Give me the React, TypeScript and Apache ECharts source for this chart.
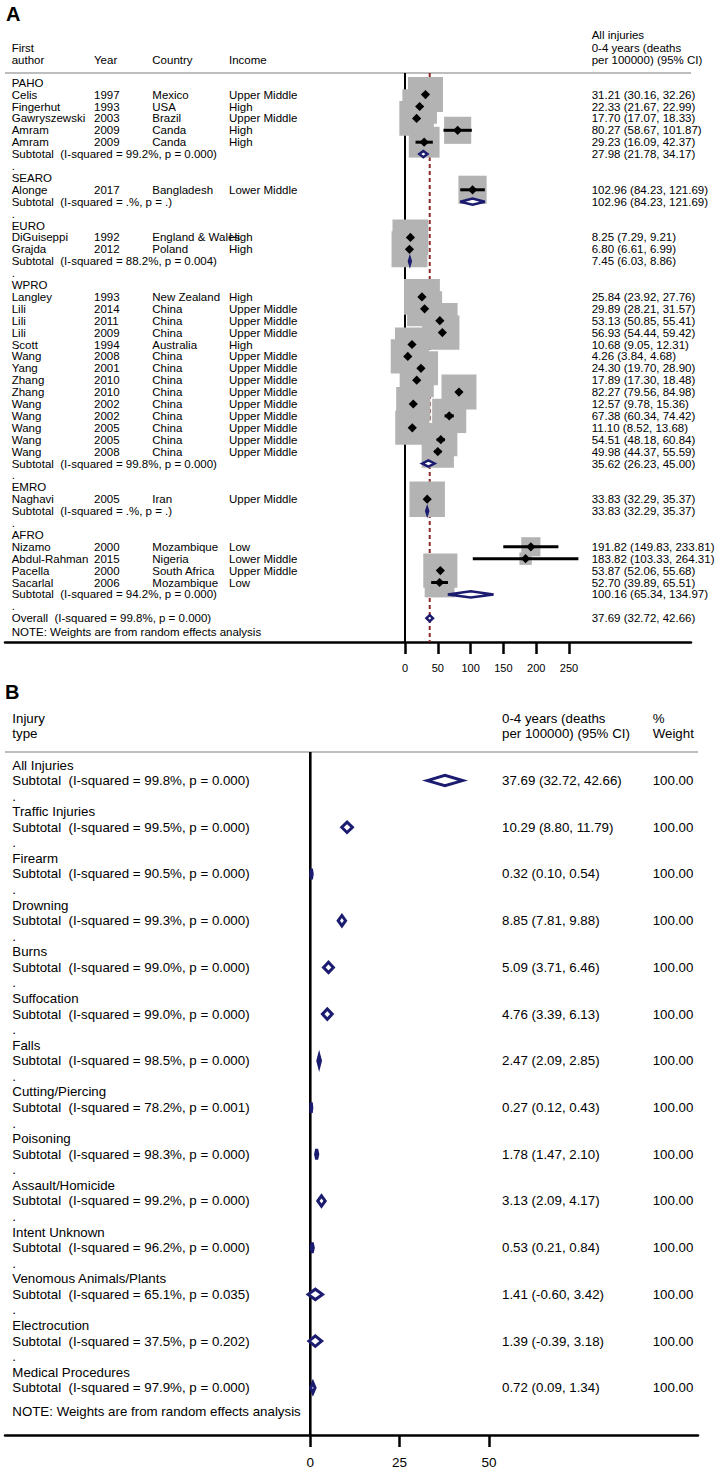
import React, { useEffect, useRef } from "react";
import * as echarts from "echarts";

// ---------- Panel A data (studies by WHO region) ----------
const regions = ["PAHO", "SEARO", "EURO", "WPRO", "EMRO", "AFRO"];
const regionI2 = ["99.2%", ".%", "88.2%", "99.8%", ".%", "94.2%"];
const regionP = ["0.000", ".", "0.004", "0.000", ".", "0.000"];
const regionEst = [27.98, 102.96, 7.45, 35.62, 33.83, 100.16];
const regionLo = [21.78, 84.23, 6.03, 26.23, 32.29, 65.34];
const regionHi = [34.17, 121.69, 8.86, 45.0, 35.37, 134.97];

const studyRegion = [0, 0, 0, 0, 0, 1, 2, 2, 3, 3, 3, 3, 3, 3, 3, 3, 3, 3, 3, 3, 3, 3, 4, 5, 5, 5, 5];
const studyAuthor = ["Celis", "Fingerhut", "Gawryszewski", "Amram", "Amram", "Alonge", "DiGuiseppi", "Grajda", "Langley", "Lili", "Lili", "Lili", "Scott", "Wang", "Yang", "Zhang", "Zhang", "Wang", "Wang", "Wang", "Wang", "Wang", "Naghavi", "Nizamo", "Abdul-Rahman", "Pacella", "Sacarlal"];
const studyYear = ["1997", "1993", "2003", "2009", "2009", "2017", "1992", "2012", "1993", "2014", "2011", "2009", "1994", "2008", "2001", "2010", "2010", "2002", "2002", "2005", "2005", "2008", "2005", "2000", "2015", "2000", "2006"];
const studyCountry = ["Mexico", "USA", "Brazil", "Canda", "Canda", "Bangladesh", "England & Wales", "Poland", "New Zealand", "China", "China", "China", "Australia", "China", "China", "China", "China", "China", "China", "China", "China", "China", "Iran", "Mozambique", "Nigeria", "South Africa", "Mozambique"];
const studyIncome = ["Upper Middle", "High", "Upper Middle", "High", "High", "Lower Middle", "High", "High", "High", "Upper Middle", "Upper Middle", "Upper Middle", "High", "Upper Middle", "Upper Middle", "Upper Middle", "Upper Middle", "Upper Middle", "Upper Middle", "Upper Middle", "Upper Middle", "Upper Middle", "Upper Middle", "Low", "Lower Middle", "Upper Middle", "Low"];
const studyEst = [31.21, 22.33, 17.7, 80.27, 29.23, 102.96, 8.25, 6.8, 25.84, 29.89, 53.13, 56.93, 10.68, 4.26, 24.3, 17.89, 82.27, 12.57, 67.38, 11.1, 54.51, 49.98, 33.83, 191.82, 183.82, 53.87, 52.7];
const studyLo = [30.16, 21.67, 17.07, 58.67, 16.09, 84.23, 7.29, 6.61, 23.92, 28.21, 50.85, 54.44, 9.05, 3.84, 19.7, 17.3, 79.56, 9.78, 60.34, 8.52, 48.18, 44.37, 32.29, 149.83, 103.33, 52.06, 39.89];
const studyHi = [32.26, 22.99, 18.33, 101.87, 42.37, 121.69, 9.21, 6.99, 27.76, 31.57, 55.41, 59.42, 12.31, 4.68, 28.9, 18.48, 84.98, 15.36, 74.42, 13.68, 60.84, 55.59, 35.37, 233.81, 264.31, 55.68, 65.51];
// estimated random-effects weights (%)
const studyWeight = [4.0, 3.9, 3.9, 2.4, 3.1, 2.6, 4.2, 4.2, 4.2, 4.0, 4.1, 3.8, 3.8, 3.8, 3.8, 3.8, 4.0, 3.8, 3.8, 3.8, 3.6, 3.4, 4.1, 1.2, 0.5, 3.8, 2.9];

const overallEst = 37.69;
const overallLo = 32.72;
const overallHi = 42.66;
const overallI2 = "99.8%";
const overallP = "0.000";

const ticksA = [0, 50, 100, 150, 200, 250];

// ---------- Panel B data (injury types) ----------
const injuryTypes = ["All Injuries", "Traffic Injuries", "Firearm", "Drowning", "Burns", "Suffocation", "Falls", "Cutting/Piercing", "Poisoning", "Assault/Homicide", "Intent Unknown", "Venomous Animals/Plants", "Electrocution", "Medical Procedures"];
const injEst = [37.69, 10.29, 0.32, 8.85, 5.09, 4.76, 2.47, 0.27, 1.78, 3.13, 0.53, 1.41, 1.39, 0.72];
const injLo = [32.72, 8.8, 0.1, 7.81, 3.71, 3.39, 2.09, 0.12, 1.47, 2.09, 0.21, -0.6, -0.39, 0.09];
const injHi = [42.66, 11.79, 0.54, 9.88, 6.46, 6.13, 2.85, 0.43, 2.1, 4.17, 0.84, 3.42, 3.18, 1.34];
const injI2 = ["99.8%", "99.5%", "90.5%", "99.3%", "99.0%", "99.0%", "98.5%", "78.2%", "98.3%", "99.2%", "96.2%", "65.1%", "37.5%", "97.9%"];
const injP = ["0.000", "0.000", "0.000", "0.000", "0.000", "0.000", "0.000", "0.001", "0.000", "0.000", "0.000", "0.035", "0.202", "0.000"];
const injWeight = [100, 100, 100, 100, 100, 100, 100, 100, 100, 100, 100, 100, 100, 100];

const ticksB = [0, 25, 50];

// ---------- styling / layout ----------
const FONT = '"Liberation Sans", Arial, Helvetica, sans-serif';
const NAVY = "#1b1b6f";
const MAROON = "#8e2a2a";
const BOXGRAY = "#b3b3b3";
const RULEGRAY = "#bdbdbd";
const FS_A = 11.5;
const FS_B = 13.3;

const fmtCI = (e: number, l: number, h: number) => `${e.toFixed(2)} (${l.toFixed(2)}, ${h.toFixed(2)})`;
const subLabel = (i2: string, p: string) => `Subtotal  (I-squared = ${i2}, p = ${p})`;

type Cell = { x: number; text: string };
type TRow = { row: number; cells: Cell[] };

function buildOption() {
  // ---- Panel A rows ----
  const colA = [11.7, 94, 152.3, 229, 591.7];
  const textA: TRow[] = [];
  const studyRow: number[] = [];
  const diamA: { row: number; est: number; lo: number; hi: number }[] = [];
  let r = 0;
  regions.forEach((reg, gi) => {
    textA.push({ row: r, cells: [{ x: colA[0], text: reg }] });
    r++;
    studyAuthor.forEach((a, si) => {
      if (studyRegion[si] !== gi) return;
      studyRow[si] = r;
      textA.push({
        row: r,
        cells: [
          { x: colA[0], text: a },
          { x: colA[1], text: studyYear[si] },
          { x: colA[2], text: studyCountry[si] },
          { x: colA[3], text: studyIncome[si] },
          { x: colA[4], text: fmtCI(studyEst[si], studyLo[si], studyHi[si]) },
        ],
      });
      r++;
    });
    textA.push({
      row: r,
      cells: [
        { x: colA[0], text: subLabel(regionI2[gi], regionP[gi]) },
        { x: colA[4], text: fmtCI(regionEst[gi], regionLo[gi], regionHi[gi]) },
      ],
    });
    diamA.push({ row: r, est: regionEst[gi], lo: regionLo[gi], hi: regionHi[gi] });
    r++;
    textA.push({ row: r, cells: [{ x: colA[0], text: "." }] });
    r++;
  });
  textA.push({
    row: r,
    cells: [
      { x: colA[0], text: `Overall  (I-squared = ${overallI2}, p = ${overallP})` },
      { x: colA[4], text: fmtCI(overallEst, overallLo, overallHi) },
    ],
  });
  diamA.push({ row: r, est: overallEst, lo: overallLo, hi: overallHi });
  textA.push({ row: r + 1.2, cells: [{ x: colA[0], text: "NOTE: Weights are from random effects analysis" }] });
  // headers
  textA.push({ row: -4.0, cells: [{ x: colA[4], text: "All injuries" }] });
  textA.push({ row: -2.94, cells: [{ x: colA[0], text: "First" }, { x: colA[4], text: "0-4 years (deaths" }] });
  textA.push({
    row: -1.93,
    cells: [
      { x: colA[0], text: "author" },
      { x: colA[1], text: "Year" },
      { x: colA[2], text: "Country" },
      { x: colA[3], text: "Income" },
      { x: colA[4], text: "per 100000) (95% CI)" },
    ],
  });

  // ---- Panel B rows ----
  const colB = [12.3, 502, 652.7];
  const textB: TRow[] = [];
  const diamB: { row: number; est: number; lo: number; hi: number }[] = [];
  injuryTypes.forEach((t, g) => {
    const base = g * 3;
    textB.push({ row: base, cells: [{ x: colB[0], text: t }] });
    textB.push({
      row: base + 1,
      cells: [
        { x: colB[0], text: subLabel(injI2[g], injP[g]) },
        { x: colB[1], text: fmtCI(injEst[g], injLo[g], injHi[g]) },
        { x: colB[2], text: injWeight[g].toFixed(2) },
      ],
    });
    diamB.push({ row: base + 1, est: injEst[g], lo: injLo[g], hi: injHi[g] });
    if (g < injuryTypes.length - 1) textB.push({ row: base + 2, cells: [{ x: colB[0], text: "." }] });
  });
  textB.push({ row: (injuryTypes.length - 1) * 3 + 2.53, cells: [{ x: colB[0], text: "NOTE: Weights are from random effects analysis" }] });
  textB.push({
    row: -3,
    cells: [
      { x: colB[0], text: "Injury" },
      { x: colB[1], text: "0-4 years (deaths" },
      { x: colB[2], text: "%" },
    ],
  });
  textB.push({
    row: -2.04,
    cells: [
      { x: colB[0], text: "type" },
      { x: colB[1], text: "per 100000) (95% CI)" },
      { x: colB[2], text: "Weight" },
    ],
  });

  // ---- geometry of the two plot regions ----
  const gA = { left: 5, right: 691, top: 73, bottom: 642, zeroPx: 405, pxPerUnit: 0.656, row0: 82.7, rowH: 11.9 };
  const gB = { left: 5, right: 698, top: 752, bottom: 1435, zeroPx: 310.3, pxPerUnit: 3.572, row0: 765, rowH: 15.57 };
  const xr = (g: typeof gA) => ({ min: (g.left - g.zeroPx) / g.pxPerUnit, max: (g.right - g.zeroPx) / g.pxPerUnit });
  const yr = (g: typeof gA) => ({ min: (g.top - g.row0) / g.rowH, max: (g.bottom - g.row0) / g.rowH });

  const textRenderer = (rows: TRow[], fs: number) => (params: any, api: any) => {
    const row = rows[params.dataIndex];
    const y = api.coord([0, row.row])[1];
    return {
      type: "group",
      children: row.cells.map((c) => ({
        type: "text",
        x: c.x,
        y,
        style: { text: c.text, fill: "#000", fontSize: fs, fontFamily: FONT, align: "left", verticalAlign: "middle" },
      })),
    };
  };

  const diamondRenderer = (list: { row: number; est: number; lo: number; hi: number }[], halfH: number, lw: number) =>
    (params: any, api: any) => {
      const d = list[params.dataIndex];
      const pl = api.coord([d.lo, d.row]);
      const pe = api.coord([d.est, d.row]);
      const ph = api.coord([d.hi, d.row]);
      return {
        type: "polygon",
        shape: { points: [[pl[0], pl[1]], [pe[0], pe[1] - halfH], [ph[0], ph[1]], [pe[0], pe[1] + halfH]] },
        style: { fill: "#fff", stroke: NAVY, lineWidth: lw, lineJoin: "miter" },
      };
    };

  const frameRenderer = (dashed: boolean) => (params: any, api: any) => {
    const cs = params.coordSys;
    const x0 = api.coord([0, 0])[0];
    const children: any[] = [
      { type: "line", shape: { x1: cs.x, y1: cs.y, x2: cs.x + cs.width, y2: cs.y }, style: { stroke: RULEGRAY, lineWidth: 2 } },
      { type: "line", shape: { x1: x0, y1: cs.y, x2: x0, y2: cs.y + cs.height }, style: { stroke: "#000", lineWidth: dashed ? 2 : 2.6 } },
    ];
    if (dashed) {
      const xo = api.coord([overallEst, 0])[0];
      children.push({
        type: "line",
        shape: { x1: xo, y1: cs.y, x2: xo, y2: cs.y + cs.height },
        style: { stroke: MAROON, lineWidth: 2, lineDash: [4, 3] },
      });
    }
    return { type: "group", children };
  };

  const xAxisCfg = (gi: number, g: typeof gA, ticks: number[], fs: number) => ({
    gridIndex: gi,
    type: "value",
    position: "bottom",
    ...xr(g),
    axisLine: { show: true, onZero: false, lineStyle: { color: "#000", width: 2.5 } },
    axisTick: { show: true, customValues: ticks, length: 12, lineStyle: { color: "#000", width: 2.5 } },
    axisLabel: { show: true, customValues: ticks, margin: 20, color: "#000", fontSize: fs, fontFamily: FONT },
    splitLine: { show: false },
  });
  const yAxisCfg = (gi: number, g: typeof gA) => ({
    gridIndex: gi,
    type: "value",
    inverse: true,
    show: false,
    ...yr(g),
    splitLine: { show: false },
  });

  return {
    animation: false,
    backgroundColor: "#fff",
    grid: [
      { left: gA.left, top: gA.top, width: gA.right - gA.left, height: gA.bottom - gA.top },
      { left: gB.left, top: gB.top, width: gB.right - gB.left, height: gB.bottom - gB.top },
    ],
    xAxis: [xAxisCfg(0, gA, ticksA, 11), xAxisCfg(1, gB, ticksB, 13.5)],
    yAxis: [yAxisCfg(0, gA), yAxisCfg(1, gB)],
    graphic: [
      { type: "text", x: 6, y: 14, style: { text: "A", fill: "#000", fontSize: 20, fontWeight: "bold", fontFamily: FONT, verticalAlign: "middle" } },
      { type: "text", x: 5, y: 692, style: { text: "B", fill: "#000", fontSize: 20, fontWeight: "bold", fontFamily: FONT, verticalAlign: "middle" } },
    ],
    series: [
      // ---- Panel A ----
      { type: "custom", xAxisIndex: 0, yAxisIndex: 0, z: 1, silent: true, data: [[0, 0]], renderItem: frameRenderer(true) },
      {
        type: "custom", xAxisIndex: 0, yAxisIndex: 0, z: 2, silent: true,
        data: studyEst.map((e, i) => [e, studyRow[i], studyWeight[i]]),
        renderItem: (params: any, api: any) => {
          const p = api.coord([api.value(0), api.value(1)]);
          const s = Math.sqrt(api.value(2)) * 17.5;
          return { type: "rect", shape: { x: p[0] - s / 2, y: p[1] - s / 2, width: s, height: s }, style: { fill: BOXGRAY } };
        },
      },
      {
        type: "custom", xAxisIndex: 0, yAxisIndex: 0, z: 3, silent: true,
        data: studyEst.map((e, i) => [studyLo[i], studyRow[i], studyHi[i]]),
        renderItem: (params: any, api: any) => {
          const a = api.coord([api.value(0), api.value(1)]);
          const b = api.coord([api.value(2), api.value(1)]);
          return { type: "line", shape: { x1: a[0], y1: a[1], x2: b[0], y2: b[1] }, style: { stroke: "#000", lineWidth: 3 } };
        },
      },
      {
        type: "custom", xAxisIndex: 0, yAxisIndex: 0, z: 4, silent: true,
        data: studyEst.map((e, i) => [e, studyRow[i]]),
        renderItem: (params: any, api: any) => {
          const p = api.coord([api.value(0), api.value(1)]);
          const h = 4.6;
          return {
            type: "polygon",
            shape: { points: [[p[0], p[1] - h], [p[0] + h, p[1]], [p[0], p[1] + h], [p[0] - h, p[1]]] },
            style: { fill: "#000" },
          };
        },
      },
      {
        type: "custom", xAxisIndex: 0, yAxisIndex: 0, z: 5, silent: true,
        data: diamA.map((d) => [d.est, d.row]),
        renderItem: diamondRenderer(diamA, 3.1, 2.5),
      },
      {
        type: "custom", xAxisIndex: 0, yAxisIndex: 0, z: 6, silent: true,
        data: textA.map((t) => [0, t.row]),
        renderItem: textRenderer(textA, FS_A),
      },
      // ---- Panel B ----
      { type: "custom", xAxisIndex: 1, yAxisIndex: 1, z: 1, silent: true, data: [[0, 0]], renderItem: frameRenderer(false) },
      {
        type: "custom", xAxisIndex: 1, yAxisIndex: 1, z: 5, silent: true,
        data: diamB.map((d) => [d.est, d.row]),
        renderItem: diamondRenderer(diamB, 5.2, 3),
      },
      {
        type: "custom", xAxisIndex: 1, yAxisIndex: 1, z: 6, silent: true,
        data: textB.map((t) => [0, t.row]),
        renderItem: textRenderer(textB, FS_B),
      },
    ],
  };
}

export default function App() {
  const ref = useRef<HTMLDivElement>(null);
  useEffect(() => {
    document.body.style.margin = "0";
    const chart = echarts.init(ref.current as HTMLDivElement, null, { renderer: "svg" });
    chart.setOption(buildOption() as any);
    return () => chart.dispose();
  }, []);
  return <div ref={ref} style={{ width: 721, height: 1473, background: "#fff" }} />;
}
